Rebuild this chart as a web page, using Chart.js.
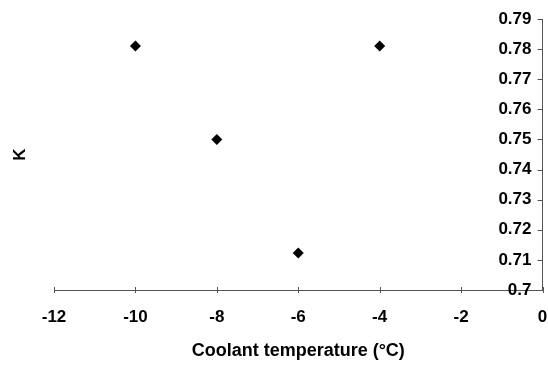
<!DOCTYPE html>
<html>
<head>
<meta charset="utf-8">
<script src="https://cdn.jsdelivr.net/npm/chart.js@4"></script>
<style>
    html, body { margin: 0; padding: 0; background: #fff; }
    #wrap { width: 548px; height: 365px; }
</style>
</head>
<body>
<div id="wrap"><canvas id="chart" width="548" height="365"></canvas></div>
<script>
// values
const temps = [-10, -8, -6, -4]
const kValues = [0.781, 0.75, 0.7123, 0.781]

const xTicks = [-12, -10, -8, -6, -4, -2, 0]
const yTicks = [0.7, 0.71, 0.72, 0.73, 0.74, 0.75, 0.76, 0.77, 0.78, 0.79]

const xTitle = 'Coolant temperature (°C)'
const yTitle = 'K'

let points = []
for (let i = 0; i < temps.length; i++) {
    points.push({x: temps[i], y: kValues[i]})
}

const axisColor = '#555'
const fontFamily = '"Liberation Sans", Arial, sans-serif'

// small tick marks: inward on the right axis, crossing on the bottom axis
const tickMarks = {
    id: 'tickMarks',
    afterDraw(chart) {
        const ctx = chart.ctx
        const xs = chart.scales.x
        const ys = chart.scales.y
        const area = chart.chartArea
        ctx.save()
        ctx.strokeStyle = axisColor
        ctx.lineWidth = 1
        ctx.beginPath()
        for (const t of ys.ticks) {
            const py = Math.round(ys.getPixelForValue(t.value)) + 0.5
            ctx.moveTo(area.right - 5, py)
            ctx.lineTo(area.right, py)
        }
        for (const t of xs.ticks) {
            const px = Math.round(xs.getPixelForValue(t.value)) + 0.5
            ctx.moveTo(px, area.bottom - 3)
            ctx.lineTo(px, area.bottom + 3)
        }
        ctx.stroke()
        ctx.restore()
    }
}

function noPad(s) {
    s.paddingTop = 0
    s.paddingBottom = 0
    s.paddingLeft = 0
    s.paddingRight = 0
}

new Chart(document.getElementById('chart'), {
    type: 'scatter',
    data: {
        datasets: [{
            data: points,
            pointStyle: 'rectRot',
            pointRadius: 5.5,
            pointHoverRadius: 5.5,
            backgroundColor: '#000',
            borderColor: '#000',
            borderWidth: 0
        }]
    },
    options: {
        responsive: false,
        animation: false,
        layout: {
            padding: {top: 19, right: 5, left: 0, bottom: 0}
        },
        plugins: {
            legend: {display: false},
            tooltip: {enabled: false}
        },
        scales: {
            x: {
                type: 'linear',
                position: 'bottom',
                min: -12,
                max: 0,
                afterBuildTicks: s => { s.ticks = xTicks.map(v => ({value: v})) },
                grid: {display: false},
                border: {display: true, color: axisColor, width: 1},
                ticks: {
                    color: '#000',
                    padding: 9,
                    font: {family: fontFamily, size: 17, weight: 'bold'},
                    callback: v => String(v)
                },
                title: {
                    display: true,
                    text: xTitle,
                    color: '#000',
                    padding: {top: 10, bottom: 3},
                    font: {family: fontFamily, size: 18, weight: 'bold'}
                },
                afterFit: s => { s.height = 75; noPad(s) }
            },
            y: {
                type: 'linear',
                position: 'right',
                min: 0.7,
                max: 0.79,
                afterBuildTicks: s => { s.ticks = yTicks.map(v => ({value: v})) },
                grid: {display: false},
                border: {display: true, color: axisColor, width: 1},
                ticks: {
                    mirror: true,
                    padding: -11,
                    color: '#000',
                    font: {family: fontFamily, size: 17, weight: 'bold'},
                    callback: v => String(+v.toFixed(2))
                },
                afterFit: s => { s.width = 0; noPad(s) }
            },
            kAxis: {
                type: 'linear',
                position: 'left',
                min: 0.7,
                max: 0.79,
                grid: {display: false},
                border: {display: false},
                ticks: {display: false},
                title: {
                    display: true,
                    text: yTitle,
                    color: '#000',
                    padding: {top: 10, bottom: 0},
                    font: {family: fontFamily, size: 17, weight: 'bold'}
                },
                afterFit: s => { s.width = 54; noPad(s) }
            }
        }
    },
    plugins: [tickMarks]
})
</script>
</body>
</html>
